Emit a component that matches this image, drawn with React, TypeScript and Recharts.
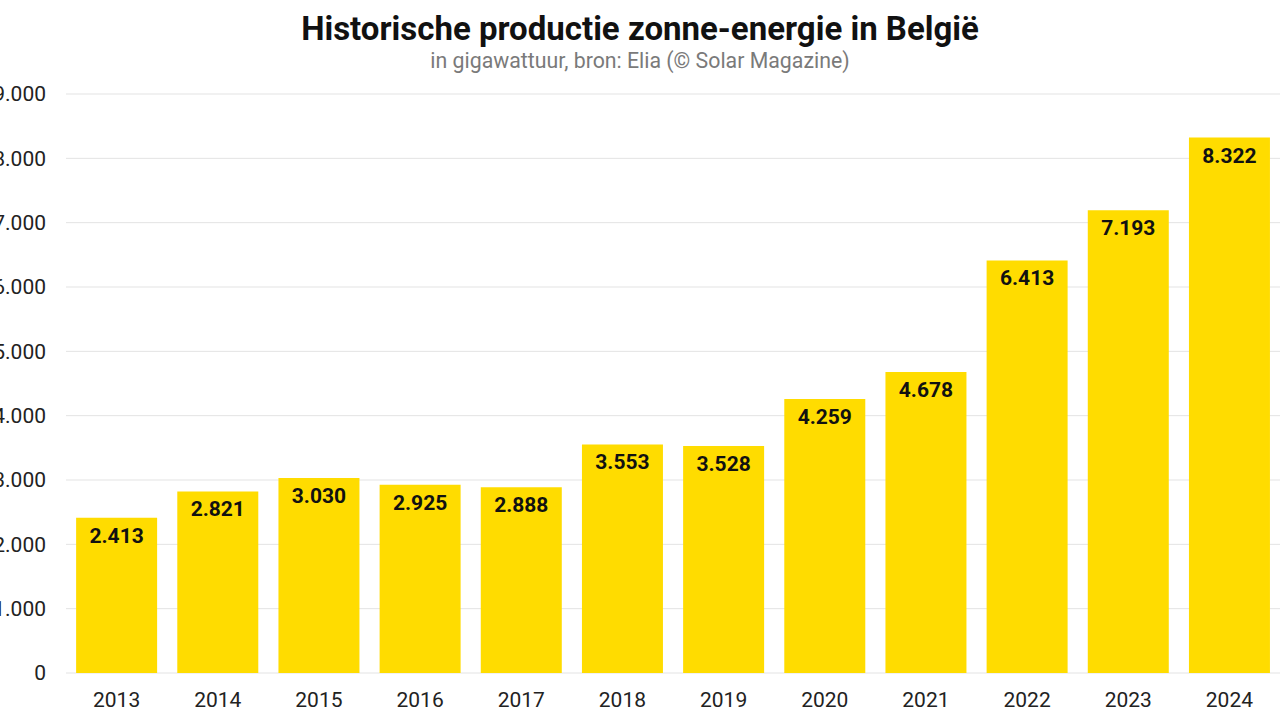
import { BarChart, Bar, XAxis, YAxis, CartesianGrid, LabelList } from 'recharts';

// Jaarlijkse productie zonne-energie in België (GWh)
const years = ['2013', '2014', '2015', '2016', '2017', '2018', '2019', '2020', '2021', '2022', '2023', '2024'];
const production = [2413, 2821, 3030, 2925, 2888, 3553, 3528, 4259, 4678, 6413, 7193, 8322];
const yTicks = [0, 1000, 2000, 3000, 4000, 5000, 6000, 7000, 8000, 9000];

const data = years.map((year, i) => ({ year, value: production[i] }));

// punt als duizendtalscheiding
const fmt = (v: number) => String(v).replace(/\B(?=(\d{3})+(?!\d))/g, '.');

const font = 'Roboto, "Noto Sans", sans-serif';

export default function App() {
  return (
    <div style={{ position: 'fixed', left: 0, top: 0, width: 1280, height: 720, background: '#fff', fontFamily: font }}>
      <div style={{ position: 'absolute', top: 9, left: 0, width: 1280, textAlign: 'center', fontSize: 33, fontWeight: 700, color: '#111' }}>
        Historische productie zonne-energie in België
      </div>
      <div style={{ position: 'absolute', top: 48, left: 0, width: 1280, textAlign: 'center', fontSize: 21.3, color: '#7a7a7a' }}>
        in gigawattuur, bron: Elia (© Solar Magazine)
      </div>
      <BarChart
        width={1280}
        height={720}
        data={data}
        margin={{ top: 94, right: 0, left: 0, bottom: 0 }}
        barCategoryGap="10%"
      >
        <CartesianGrid vertical={false} stroke="#e3e3e3" />
        <XAxis
          dataKey="year"
          axisLine={false}
          tickLine={false}
          height={47}
          tickMargin={13}
          tick={{ fontSize: 21, fill: '#222', fontFamily: font }}
        />
        <YAxis
          width={66}
          domain={[0, 9000]}
          ticks={yTicks}
          axisLine={false}
          tickLine={false}
          tickMargin={14}
          tickFormatter={fmt}
          tick={{ fontSize: 21, fill: '#222', fontFamily: font }}
        />
        <Bar dataKey="value" fill="#FFDC00" isAnimationActive={false}>
          <LabelList
            dataKey="value"
            position="insideTop"
            offset={10}
            formatter={(v: number) => fmt(v)}
            style={{ fontSize: 21, fontWeight: 700, fill: '#111', fontFamily: font }}
          />
        </Bar>
      </BarChart>
    </div>
  );
}
